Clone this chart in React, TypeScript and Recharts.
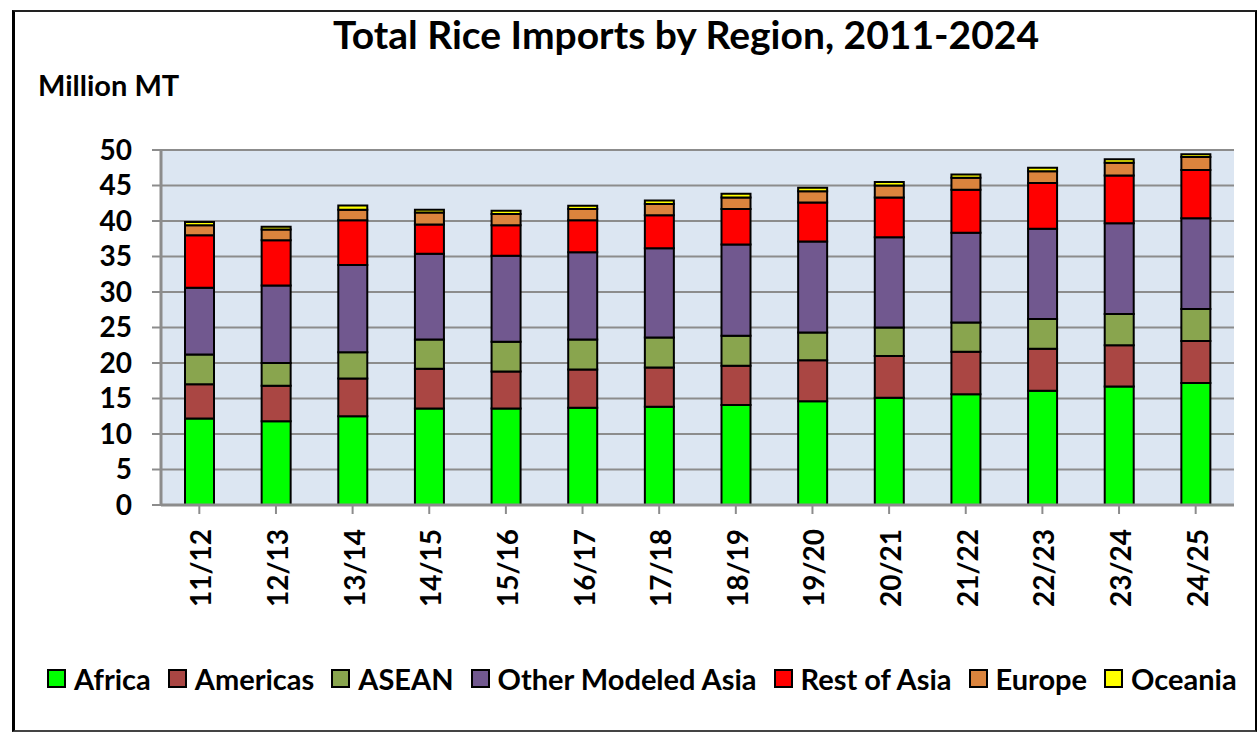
import { BarChart, Bar, XAxis, YAxis, CartesianGrid, Legend } from 'recharts'

const seasons = ['11/12', '12/13', '13/14', '14/15', '15/16', '16/17', '17/18', '18/19', '19/20', '20/21', '21/22', '22/23', '23/24', '24/25']

const africa = [12.2, 11.8, 12.5, 13.6, 13.6, 13.7, 13.85, 14.1, 14.6, 15.1, 15.6, 16.1, 16.7, 17.2]
const americas = [4.8, 5.0, 5.3, 5.6, 5.2, 5.4, 5.5, 5.5, 5.8, 5.9, 6.0, 5.9, 5.8, 5.9]
const asean = [4.2, 3.2, 3.7, 4.1, 4.2, 4.2, 4.25, 4.25, 3.9, 4.0, 4.1, 4.2, 4.4, 4.5]
const otherAsia = [9.4, 10.9, 12.3, 12.1, 12.1, 12.3, 12.55, 12.85, 12.8, 12.7, 12.65, 12.7, 12.8, 12.8]
const restAsia = [7.4, 6.4, 6.3, 4.1, 4.3, 4.5, 4.65, 5.0, 5.5, 5.6, 6.05, 6.45, 6.7, 6.8]
const europe = [1.4, 1.5, 1.5, 1.7, 1.6, 1.6, 1.6, 1.6, 1.6, 1.7, 1.7, 1.65, 1.8, 1.8]
const oceania = [0.45, 0.4, 0.6, 0.4, 0.45, 0.45, 0.5, 0.55, 0.5, 0.5, 0.45, 0.5, 0.5, 0.4]

const yTicks = [0, 5, 10, 15, 20, 25, 30, 35, 40, 45, 50]

const SERIES = [
  { key: 'africa', name: 'Africa', color: '#00ff00' },
  { key: 'americas', name: 'Americas', color: '#aa4643' },
  { key: 'asean', name: 'ASEAN', color: '#89a54e' },
  { key: 'otherAsia', name: 'Other Modeled Asia', color: '#71588f' },
  { key: 'restAsia', name: 'Rest of Asia', color: '#ff0000' },
  { key: 'europe', name: 'Europe', color: '#db843d' },
  { key: 'oceania', name: 'Oceania', color: '#ffff00' },
]

const data = seasons.map((s, i) => ({
  season: s,
  africa: africa[i],
  americas: americas[i],
  asean: asean[i],
  otherAsia: otherAsia[i],
  restAsia: restAsia[i],
  europe: europe[i],
  oceania: oceania[i],
}))

const FONT = 'Lato, "Open Sans", sans-serif'

const XTick = ({ x, y, payload }: any) => (
  <text
    x={x + 1}
    y={y + 13}
    transform={`rotate(-90, ${x + 1}, ${y + 13})`}
    textAnchor="end"
    dominantBaseline="central"
    fontFamily={FONT}
    fontWeight={700}
    fontSize={28}
    fill="#000"
  >
    {payload.value}
  </text>
)

const LegendContent = () => (
  <div
    style={{
      display: 'flex',
      justifyContent: 'flex-start',
      alignItems: 'center',
      height: 40,
      paddingLeft: 47,
      fontFamily: FONT,
      fontWeight: 700,
      fontSize: 29,
      color: '#000',
      whiteSpace: 'nowrap',
    }}
  >
    {SERIES.map((s, i) => (
      <div key={s.key} style={{ display: 'flex', alignItems: 'center', marginRight: i < SERIES.length - 1 ? 17 : 0 }}>
        <span
          style={{
            display: 'inline-block',
            width: 15,
            height: 15,
            background: s.color,
            border: '2px solid #000',
            marginRight: 8,
          }}
        />
        {s.name}
      </div>
    ))}
  </div>
)

export default function App() {
  return (
    <div style={{ position: 'absolute', left: 0, top: 0, width: 1259, height: 733, background: '#fff' }}>
      <div
        style={{
          position: 'absolute',
          left: 12,
          top: 10,
          width: 1240,
          height: 718,
          borderLeft: '3px solid #000',
          borderTop: '2px solid #222',
          borderRight: '2px solid #000',
          borderBottom: '2px solid #444',
        }}
      />
      <div style={{ position: 'absolute', left: 0, top: 0 }}>
        <BarChart width={1259} height={733} data={data} margin={{ top: 150, right: 25, bottom: 35, left: 0 }}>
          <text x={686} y={49} textAnchor="middle" fontFamily={FONT} fontWeight={700} fontSize={39} fill="#000">
            Total Rice Imports by Region, 2011-2024
          </text>
          <text x={38} y={96} fontFamily={FONT} fontWeight={700} fontSize={29} fill="#000">
            Million MT
          </text>
          <CartesianGrid
            vertical={false}
            fill="#dce6f2"
            stroke="#8c8c8c"
            strokeWidth={2}
          />
          <XAxis
            dataKey="season"
            height={153}
            interval={0}
            tick={<XTick />}
            tickSize={9}
            tickLine={{ stroke: '#8c8c8c', strokeWidth: 2 }}
            axisLine={{ stroke: '#8c8c8c', strokeWidth: 3 }}
          />
          <XAxis xAxisId="top" dataKey="season" orientation="top" height={0} tick={false} tickLine={false} axisLine={{ stroke: '#111', strokeWidth: 2 }} />
          <YAxis
            width={161}
            domain={[0, 50]}
            ticks={yTicks}
            interval={0}
            tickSize={9}
            tickMargin={20}
            tickLine={{ stroke: '#8c8c8c', strokeWidth: 2 }}
            axisLine={{ stroke: '#8c8c8c', strokeWidth: 3 }}
            tick={{ fontFamily: FONT, fontWeight: 700, fontSize: 28, fill: '#000' }}
          />
          <YAxis yAxisId="right" orientation="right" width={0} domain={[0, 50]} tick={false} tickLine={false} axisLine={{ stroke: '#111', strokeWidth: 2 }} />
          <Legend verticalAlign="bottom" content={<LegendContent />} />
          {SERIES.map((s) => (
            <Bar
              key={s.key}
              dataKey={s.key}
              name={s.name}
              stackId="a"
              fill={s.color}
              stroke="#000"
              strokeWidth={2}
              barSize={29}
              isAnimationActive={false}
            />
          ))}
        </BarChart>
      </div>
    </div>
  )
}
